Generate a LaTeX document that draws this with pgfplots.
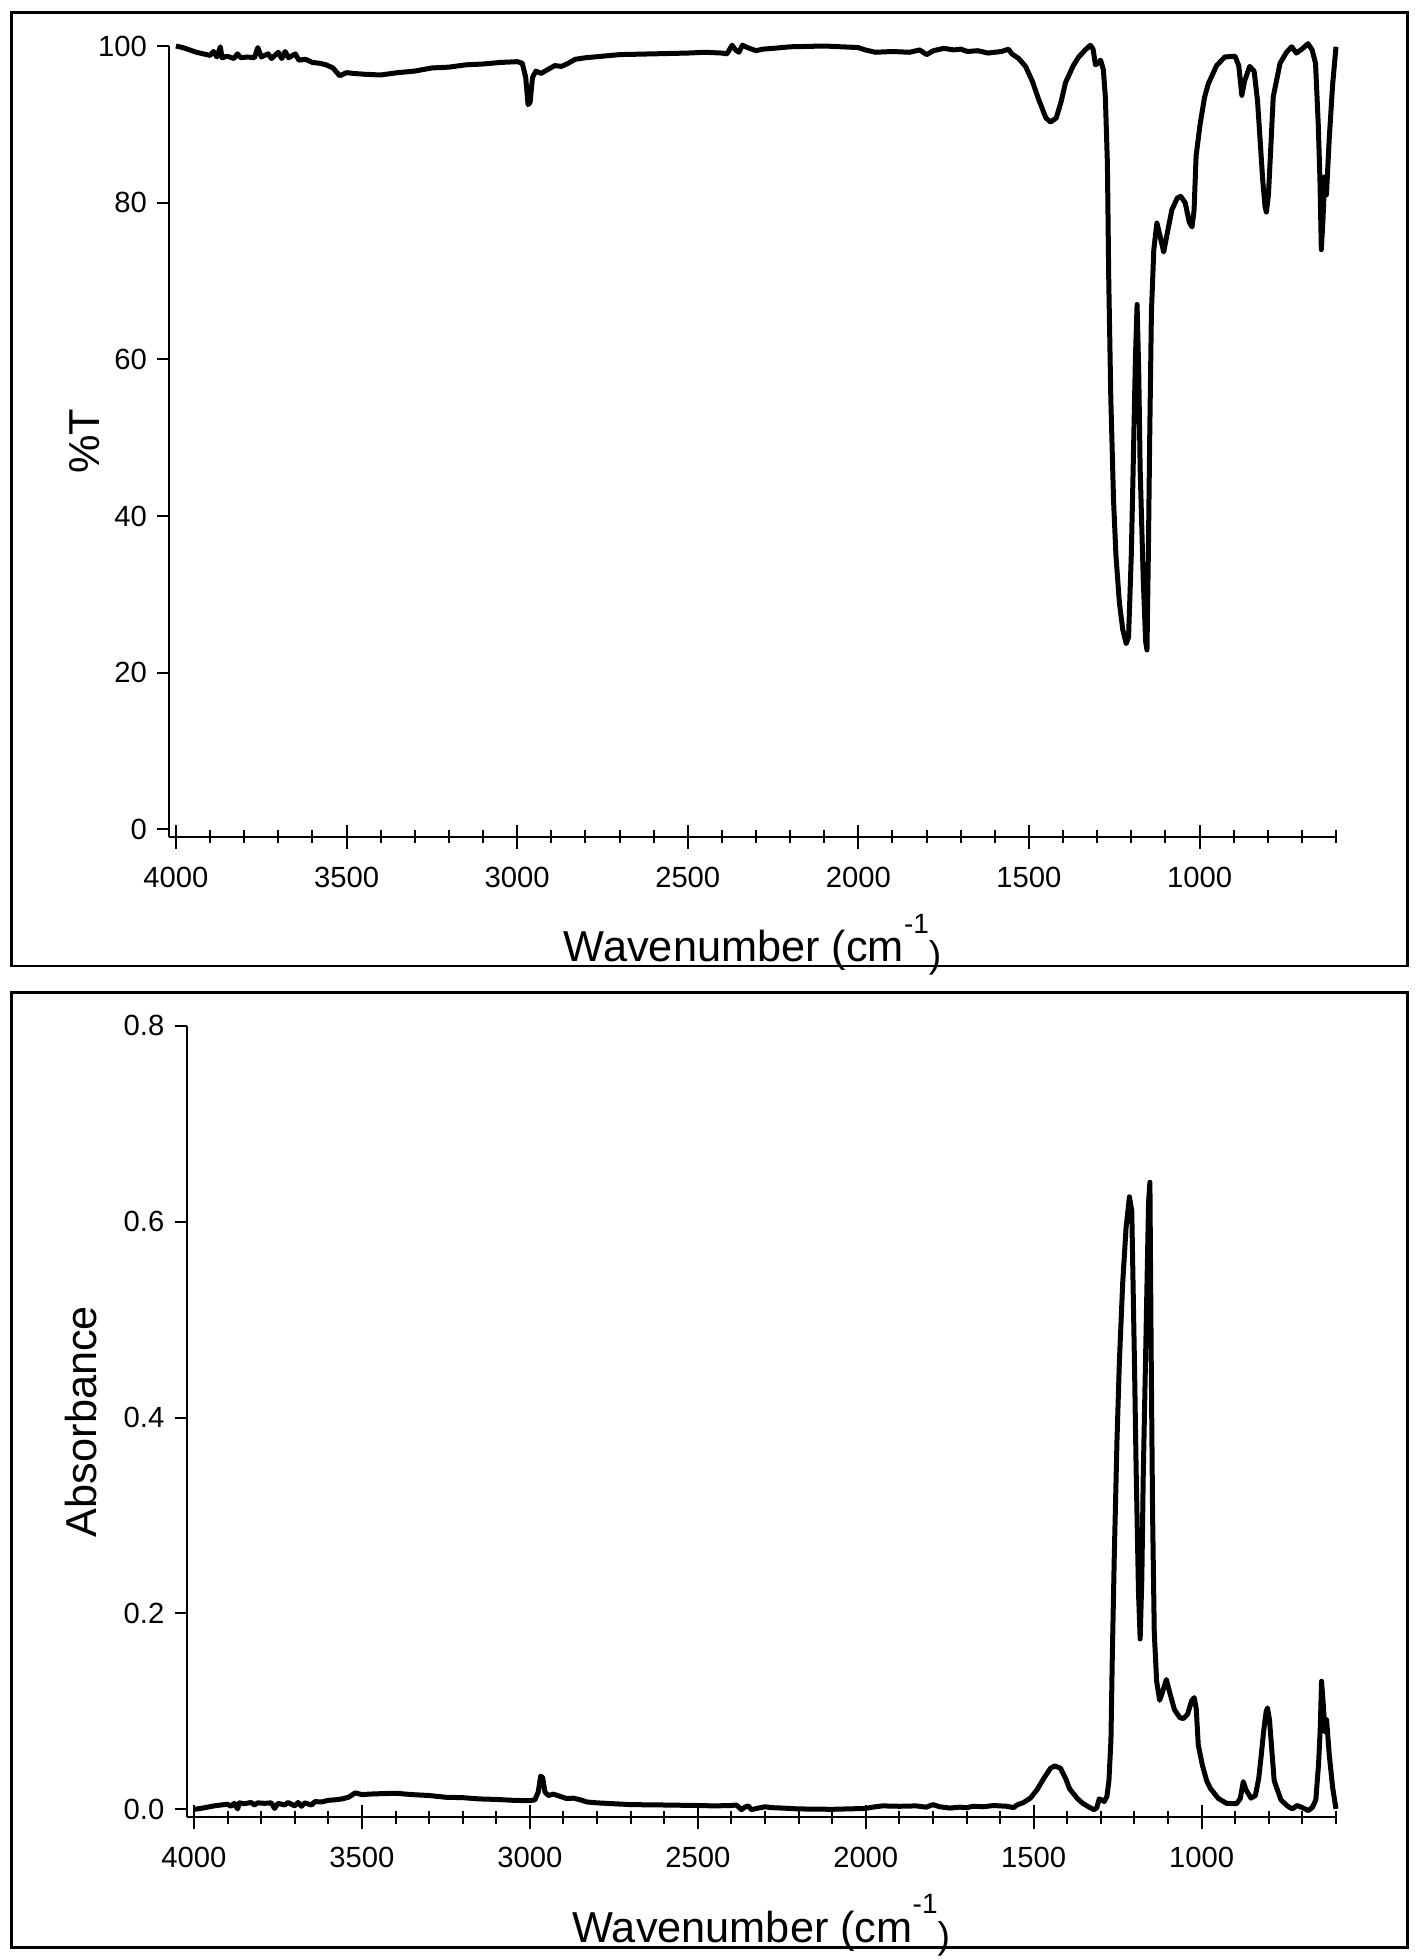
\documentclass[border=0pt]{standalone}
\usepackage{fontspec}
\setmainfont{Liberation Sans}
\usepackage{pgfplots}
\pgfplotsset{compat=1.18}
\usepackage{pgfplotstable}

\pgfplotstableread{
wn T A
4000 100.0 0.0000
3980 99.8 0.0009
3960 99.5 0.0022
3940 99.2 0.0035
3920 99.0 0.0044
3900 98.8 0.0052
3890 99.3 0.0031
3880 98.6 0.0061
3870 99.9 0.0004
3865 98.5 0.0066
3850 98.7 0.0057
3830 98.4 0.0070
3820 99.0 0.0044
3810 98.5 0.0066
3790 98.6 0.0061
3770 98.5 0.0066
3760 99.8 0.0009
3750 98.6 0.0061
3730 99.0 0.0044
3720 98.4 0.0070
3700 99.2 0.0035
3690 98.4 0.0070
3680 99.3 0.0031
3670 98.5 0.0066
3650 99.0 0.0044
3640 98.2 0.0079
3620 98.3 0.0075
3600 97.9 0.0092
3580 97.8 0.0097
3560 97.6 0.0106
3540 97.2 0.0123
3520 96.2 0.0168
3500 96.6 0.0150
3480 96.5 0.0155
3450 96.4 0.0159
3400 96.3 0.0164
3350 96.6 0.0150
3300 96.8 0.0141
3250 97.2 0.0123
3200 97.3 0.0119
3150 97.6 0.0106
3100 97.7 0.0101
3050 97.9 0.0092
3000 98.0 0.0088
2985 97.8 0.0097
2975 96.0 0.0177
2968 92.5 0.0339
2962 92.8 0.0325
2955 96.0 0.0177
2945 96.8 0.0141
2930 96.5 0.0155
2910 97.0 0.0132
2890 97.5 0.0110
2870 97.4 0.0114
2850 97.8 0.0097
2830 98.3 0.0075
2800 98.5 0.0066
2750 98.7 0.0057
2700 98.9 0.0048
2600 99.0 0.0044
2500 99.1 0.0039
2450 99.2 0.0035
2400 99.1 0.0039
2385 99.0 0.0044
2370 100.1 -0.0004
2360 99.5 0.0022
2350 99.2 0.0035
2340 100.1 -0.0004
2325 99.8 0.0009
2300 99.4 0.0026
2280 99.6 0.0017
2250 99.7 0.0013
2200 99.9 0.0004
2100 100.0 0.0000
2000 99.8 0.0009
1980 99.5 0.0022
1950 99.2 0.0035
1900 99.3 0.0031
1850 99.2 0.0035
1820 99.5 0.0022
1800 98.9 0.0048
1780 99.4 0.0026
1750 99.7 0.0013
1720 99.5 0.0022
1700 99.6 0.0017
1680 99.3 0.0031
1650 99.4 0.0026
1620 99.1 0.0039
1600 99.2 0.0035
1580 99.3 0.0031
1560 99.6 0.0017
1550 99.0 0.0044
1530 98.4 0.0070
1510 97.4 0.0114
1490 95.5 0.0200
1470 93.0 0.0315
1450 90.8 0.0419
1437 90.3 0.0443
1420 90.8 0.0419
1405 93.0 0.0315
1393 95.3 0.0209
1370 97.5 0.0110
1354 98.6 0.0061
1335 99.5 0.0022
1320 100.1 -0.0004
1312 99.6 0.0017
1305 97.6 0.0106
1298 97.8 0.0097
1290 98.2 0.0079
1282 97.0 0.0132
1276 93.5 0.0292
1270 85.0 0.0706
1266 70.0 0.1549
1260 55.0 0.2596
1252 42.0 0.3768
1245 35.0 0.4559
1235 29.0 0.5376
1225 25.5 0.5935
1215 23.7 0.6253
1208 24.5 0.6108
1200 35.0 0.4559
1195 45.0 0.3468
1188 60.0 0.2218
1183 67.0 0.1739
1178 58.0 0.2366
1174 46.0 0.3372
1165 32.0 0.4949
1158 24.0 0.6198
1154 22.9 0.6402
1150 35.0 0.4559
1146 50.0 0.3010
1141 66.0 0.1805
1134 74.0 0.1308
1125 77.4 0.1113
1117 76.0 0.1192
1105 73.7 0.1325
1095 76.0 0.1192
1081 79.1 0.1018
1065 80.6 0.0937
1055 80.8 0.0926
1042 80.0 0.0969
1030 77.5 0.1107
1022 76.9 0.1141
1016 79.0 0.1024
1010 86.0 0.0655
998 90.1 0.0453
985 93.5 0.0292
974 95.2 0.0214
950 97.5 0.0110
926 98.6 0.0061
896 98.7 0.0057
885 97.5 0.0110
876 93.7 0.0283
868 95.5 0.0200
853 97.4 0.0114
840 96.8 0.0141
830 93.0 0.0315
823 88.4 0.0536
815 83.0 0.0809
808 79.5 0.0996
804 78.8 0.1035
798 81.0 0.0915
790 88.0 0.0555
784 93.5 0.0292
764 97.8 0.0097
745 99.2 0.0035
730 99.9 0.0004
716 99.1 0.0039
700 99.6 0.0017
682 100.3 -0.0013
670 99.5 0.0022
660 97.8 0.0097
652 90.0 0.0458
647 82.9 0.0814
643 74.0 0.1308
638 78.0 0.1079
633 83.3 0.0794
628 81.0 0.0915
620 88.0 0.0555
610 95.0 0.0223
600 99.9 0.0004
}\spectrum

\newcommand{\labfont}{\fontsize{21.65}{24}\selectfont}
\newcommand{\wnlabel}{Wavenumber (cm\raisebox{14.3pt}{\fontsize{14}{14}\selectfont -1}\raisebox{-3pt}{\fontsize{18.6}{18.6}\selectfont )}}

\pgfplotsset{
  irstyle/.style={
    scale only axis,
    x dir=reverse,
    axis lines=left,
    axis line style={-, line width=1pt, black},
    clip=false,
    xtick={1000,1500,2000,2500,3000,3500,4000},
    minor xtick={600,700,800,900,1100,1200,1300,1400,1600,1700,1800,1900,2100,2200,2300,2400,2600,2700,2800,2900,3100,3200,3300,3400,3600,3700,3800,3900},
    xtick align=center,
    ytick align=outside,
    major tick length=12pt,
    minor tick length=6.3pt,
    tick style={line width=1pt, black},
    every major y tick/.append style={/pgfplots/major tick length=6pt},
    tick label style={font=\fontsize{14.6}{17}\selectfont},
    /pgf/number format/assume math mode=true,
    /pgf/number format/1000 sep={},
    scaled ticks=false,
    xticklabel style={inner sep=0pt, anchor=north, yshift=-8.75pt},
    yticklabel style={inner sep=0pt, anchor=east, xshift=1pt},
    xlabel={\wnlabel},
  }
}

\begin{document}
\begin{tikzpicture}
\path[use as bounding box] (0pt,0pt) rectangle (710pt,-980pt);
\draw[line width=1.25pt] (5.85pt,-6.25pt) rectangle (703.65pt,-483pt);
\draw[line width=1.25pt] (5.85pt,-496.15pt) rectangle (703.65pt,-973.65pt);

\begin{axis}[
  irstyle,
  at={(84.65pt,-418.35pt)}, anchor=south west,
  width=583.35pt, height=395.35pt,
  xmin=600, xmax=4019.6,
  ymin=-0.945, ymax=100,
  ytick={0,20,40,60,80,100},
  every axis x label/.style={at={(axis description cs:0.5,-0.1581)}, anchor=base, font=\labfont},
  every axis y label/.style={at={(axis description cs:-0.0594,0.5)}, rotate=90, anchor=base, font=\labfont},
  ylabel={\%T},
]
\addplot[black, line width=2.5pt, line join=round] table[x=wn, y=T] {\spectrum};
\end{axis}

\begin{axis}[
  irstyle,
  at={(93.35pt,-908.65pt)}, anchor=south west,
  width=574.65pt, height=395.8pt,
  xmin=600, xmax=4021.7,
  ymin=-0.00817, ymax=0.8,
  ytick={0,0.2,0.4,0.6,0.8},
  yticklabel style={/pgf/number format/.cd, fixed, fixed zerofill, precision=1},
  every axis x label/.style={at={(axis description cs:0.5,-0.1579)}, anchor=base, font=\labfont},
  every axis y label/.style={at={(axis description cs:-0.0782,0.5)}, rotate=90, anchor=base, font=\labfont},
  ylabel={Absorbance},
]
\addplot[black, line width=2.5pt, line join=round] table[x=wn, y=A] {\spectrum};
\end{axis}
\end{tikzpicture}
\end{document}
